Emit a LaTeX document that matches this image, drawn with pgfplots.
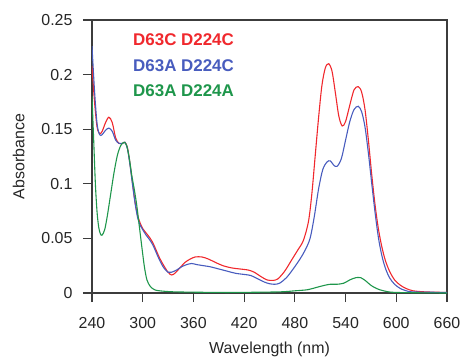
\documentclass[border=0pt]{standalone}
\usepackage{pgfplots}
\pgfplotsset{compat=1.18}
\usepackage{fontspec}
\setmainfont{Liberation Sans}
\definecolor{cred}{RGB}{240,40,45}
\definecolor{cblue}{RGB}{72,92,190}
\definecolor{cgreen}{RGB}{30,150,75}
\definecolor{axgray}{RGB}{60,60,60}
\begin{document}
\begin{tikzpicture}
\begin{axis}[
  scale only axis,
  width=355bp, height=273bp,
  xmin=240, xmax=660, ymin=0, ymax=0.25,
  xtick={240,300,...,660},
  ytick={0,0.05,0.1,0.15,0.2,0.25},
  yticklabels={0,0.05,0.1,0.15,0.2,0.25},
  xtick pos=bottom, ytick pos=left,
  tick align=outside,
  major tick length=9bp,
  axis line style={draw=axgray, line width=1.2pt},
  major tick style={draw=axgray, line width=1.2pt},
  /pgf/number format/assume math mode=true,
  ticklabel style={font=\fontsize{16}{19}\selectfont, text=black!85},
  xticklabel style={yshift=-12bp},
  yticklabel style={xshift=-7bp},
  label style={font=\fontsize{16}{19}\selectfont, text=black!85},
  xlabel={Wavelength (nm)},
  ylabel={Absorbance},
  xlabel style={at={(rel axis cs:0.5,0)}, anchor=base, yshift=-60.5bp},
  ylabel style={yshift=10bp},
  every axis plot/.append style={line width=1.1pt},
]
\addplot[cred, smooth] coordinates {
(240,0.208)(243,0.175)(246,0.152)(249,0.146)(252,0.148)(256,0.156)(260,0.161)(264,0.156)(268,0.142)(272,0.137)(276,0.137)(279,0.138)(282,0.133)(285,0.118)(288,0.100)(291,0.083)(294,0.071)(297,0.064)(300,0.059)(304,0.055)(308,0.051)(312,0.046)(316,0.039)(320,0.032)(325,0.025)(330,0.019)(334,0.0165)(338,0.018)(344,0.023)(350,0.028)(356,0.031)(362,0.033)(370,0.033)(378,0.031)(386,0.028)(395,0.025)(405,0.023)(415,0.022)(425,0.021)(432,0.019)(440,0.015)(447,0.012)(454,0.0115)(460,0.013)(468,0.020)(476,0.030)(484,0.040)(490,0.048)(496,0.065)(500,0.090)(504,0.125)(508,0.160)(512,0.190)(516,0.206)(520,0.210)(524,0.203)(528,0.183)(532,0.162)(536,0.153)(540,0.157)(545,0.172)(550,0.186)(555,0.189)(559,0.184)(563,0.168)(567,0.140)(571,0.108)(575,0.080)(579,0.058)(583,0.042)(587,0.030)(592,0.020)(598,0.012)(605,0.007)(612,0.004)(620,0.002)(635,0.001)(660,0.0005)
};
\addplot[cblue, smooth] coordinates {
(240,0.226)(243,0.185)(246,0.155)(249,0.145)(252,0.145)(256,0.149)(260,0.151)(264,0.148)(268,0.140)(272,0.137)(276,0.137)(279,0.138)(282,0.132)(285,0.117)(288,0.099)(291,0.082)(294,0.069)(297,0.062)(300,0.058)(304,0.053)(308,0.049)(312,0.044)(316,0.037)(320,0.030)(325,0.023)(330,0.019)(334,0.019)(340,0.021)(346,0.024)(352,0.026)(358,0.027)(364,0.026)(372,0.025)(380,0.024)(390,0.022)(400,0.020)(410,0.018)(420,0.017)(428,0.016)(436,0.013)(444,0.010)(450,0.0085)(456,0.008)(462,0.009)(470,0.014)(478,0.022)(486,0.031)(492,0.039)(498,0.050)(503,0.070)(508,0.095)(513,0.113)(518,0.120)(522,0.121)(526,0.117)(530,0.116)(535,0.123)(540,0.140)(545,0.157)(550,0.168)(555,0.171)(559,0.166)(563,0.152)(567,0.128)(571,0.100)(575,0.073)(579,0.050)(583,0.034)(587,0.023)(592,0.014)(598,0.008)(605,0.004)(612,0.002)(620,0.001)(660,0.0005)
};
\addplot[cgreen, smooth] coordinates {
(240,0.180)(242,0.140)(244,0.100)(246,0.074)(248,0.060)(250,0.054)(252,0.053)(255,0.058)(258,0.070)(262,0.090)(266,0.110)(270,0.126)(274,0.135)(278,0.138)(281,0.135)(284,0.124)(287,0.108)(290,0.095)(293,0.080)(296,0.061)(299,0.042)(302,0.024)(305,0.012)(309,0.006)(314,0.003)(320,0.002)(340,0.001)(400,0.0005)(460,0.001)(480,0.002)(495,0.003)(505,0.005)(515,0.007)(522,0.008)(530,0.008)(538,0.009)(545,0.012)(552,0.014)(558,0.014)(564,0.011)(570,0.007)(577,0.004)(585,0.002)(600,0.0005)(660,0.0)
};
\node[anchor=base west, inner sep=0pt, text=cred, font=\fontsize{17}{20}\selectfont\bfseries] at (rel axis cs:0.1155,0.905) {D63C D224C};
\node[anchor=base west, inner sep=0pt, text=cblue, font=\fontsize{17}{20}\selectfont\bfseries] at (rel axis cs:0.1155,0.81) {D63A D224C};
\node[anchor=base west, inner sep=0pt, text=cgreen, font=\fontsize{17}{20}\selectfont\bfseries] at (rel axis cs:0.1155,0.718) {D63A D224A};
\end{axis}
\pgfresetboundingbox
\path[use as bounding box] (-92bp,-65bp) rectangle (371bp,293bp);
\end{tikzpicture}
\end{document}
